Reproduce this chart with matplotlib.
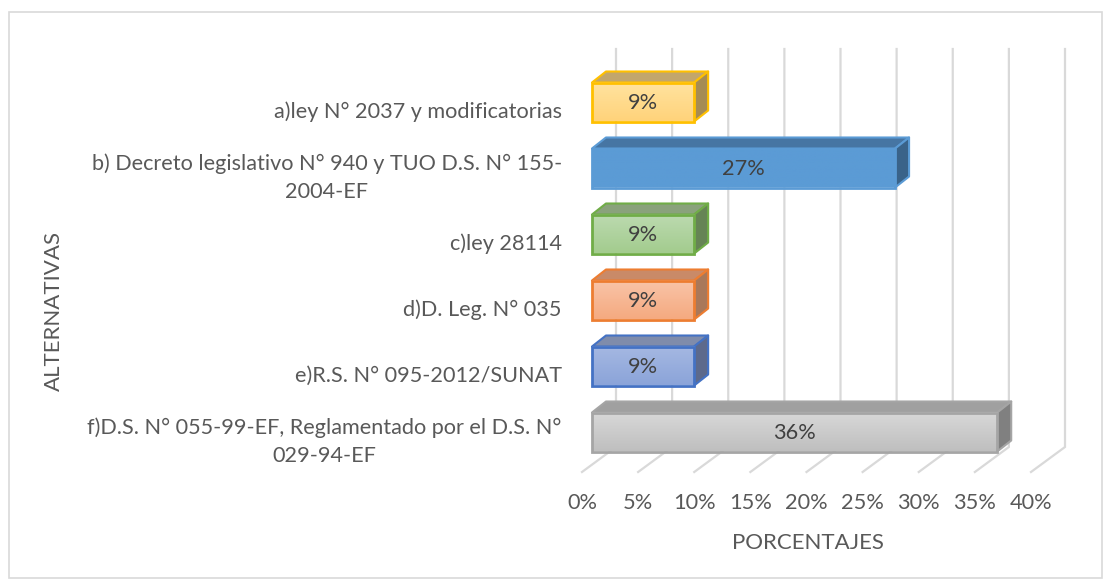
import numpy as np
import matplotlib
matplotlib.use('Agg')
import matplotlib.pyplot as plt
from matplotlib.patches import Polygon, Rectangle
from matplotlib.transforms import ScaledTranslation

plt.rcParams['font.family'] = ['Lato', 'DejaVu Sans']

categories = ['a)ley N° 2037 y modificatorias',
              'b) Decreto legislativo N° 940 y TUO D.S. N° 155-\n2004-EF',
              'c)ley 28114',
              'd)D. Leg. N° 035',
              'e)R.S. N° 095-2012/SUNAT',
              'f)D.S. N° 055-99-EF, Reglamentado por el D.S. N°\n029-94-EF']
# bar lengths, labels as printed
values = [9.1, 27.0, 9.1, 9.1, 9.1, 36.1]
value_labels = ['9%', '27%', '9%', '9%', '9%', '36%']
ticks = [0, 5, 10, 15, 20, 25, 30, 35, 40]
tick_labels = ['0%', '5%', '10%', '15%', '20%', '25%', '30%', '35%', '40%']

top_col = ['#ffe3a0', '#5b9bd5', '#bcdab0', '#f9c4a8', '#a5b8e2', '#d8d8d8']
bot_col = ['#ffd37a', '#5b9bd5', '#a3cc8e', '#f5aa80', '#8ba4d9', '#bfbfbf']
edge_col = ['#ffc000', '#5b9bd5', '#70ad47', '#ed7d31', '#4472c4', '#a5a5a5']
lid_col = ['#c2a66c', '#4675a3', '#8aa27c', '#c98a68', '#7f8cab', '#a0a0a0']
side_col = ['#a68c54', '#3a6389', '#668455', '#a9785a', '#5d6a8c', '#808080']
text_col = '#595959'
grid_col = '#d9d9d9'

W, H = 1110, 587
fig = plt.figure(figsize=(W / 100, H / 100), dpi=100)
fig.patches.append(Rectangle((9 / W, 1 - 578 / H), 1093 / W, 566 / H, transform=fig.transFigure,
                             fc='white', ec='#d9d9d9', lw=1.2, zorder=-1))

# axes box: front floor edge at y=472, 0% at x=582, 40% at x=1031
ax = fig.add_axes([582 / W, 1 - 472 / H, 449 / W, 423 / H])
px_x = 40 / 449
row = 66
# row 0 (top bar) has its centre at y=102 px
ylim = ((472 - 102) / row, (472 - 102 - 423) / row)
px_y = 1 / row
ax.patch.set_alpha(0)
for s in ax.spines.values():
    s.set_visible(False)

y = np.arange(len(categories))
xstart = 10 * px_x
dx, dy = 14 * px_x, 11 * px_y
bar_h = 39 * px_y

# wall and floor gridlines
for t in ticks:
    ax.plot([t, t + 34 * px_x, t + 34 * px_x], [ylim[0], ylim[0] - 25 * px_y, ylim[1]],
            color=grid_col, lw=1.6, clip_on=False, zorder=1, solid_joinstyle='miter')

grad = np.linspace(0, 1, 64).reshape(-1, 1)
for i, v in enumerate(values):
    x0, x1 = xstart, xstart + v
    y0, y1 = i - bar_h / 2, i + bar_h / 2
    z = 3 + i
    ax.add_patch(Polygon([(x0, y0), (x0 + dx, y0 - dy), (x1 + dx, y0 - dy), (x1, y0)],
                         fc=lid_col[i], ec=edge_col[i], lw=1.5, zorder=z, joinstyle='round'))
    ax.add_patch(Polygon([(x1, y0), (x1 + dx, y0 - dy), (x1 + dx, y1 - dy), (x1, y1)],
                         fc=side_col[i], ec=edge_col[i], lw=1.5, zorder=z, joinstyle='round'))
    cmap = matplotlib.colors.LinearSegmentedColormap.from_list('g', [top_col[i], bot_col[i]])
    ax.imshow(grad, extent=(x0, x1, y1, y0), origin='upper', aspect='auto', cmap=cmap, zorder=z + 0.1)
    ax.add_patch(Rectangle((x0, y0), v, bar_h, fc='none', ec=edge_col[i], lw=2, zorder=z + 0.2))
    ax.text(x0 + v / 2, i + 1 * px_y, value_labels[i], ha='center', va='center', fontsize=15.7,
            color='#404040', zorder=z + 0.3)
ax.set_xlim(0, 40)
ax.set_ylim(*ylim)

ax.set_xticks(ticks)
ax.set_xticklabels(tick_labels, fontsize=15.7, color=text_col)
ax.tick_params(axis='x', length=0, pad=15)
ax.set_yticks(y)
ax.set_yticklabels(categories, fontsize=15.6, color=text_col, ha='right', linespacing=1.5)
ax.tick_params(axis='y', length=0, pad=14.5)
for lab in ax.get_yticklabels():
    # two-line labels sit higher and have their lines centred
    off = 4 if '\n' in lab.get_text() else 8
    lab.set_multialignment('center')
    lab.set_transform(lab.get_transform() + ScaledTranslation(0, -off / 100, fig.dpi_scale_trans))

fig.text(808 / W, 1 - 543 / H, 'PORCENTAJES', ha='center', va='center', fontsize=16, color=text_col)
fig.text(54 / W, 1 - 311 / H, 'ALTERNATIVAS', ha='center', va='center', rotation=90, fontsize=16, color=text_col)

fig.savefig('out.png', dpi=100)
